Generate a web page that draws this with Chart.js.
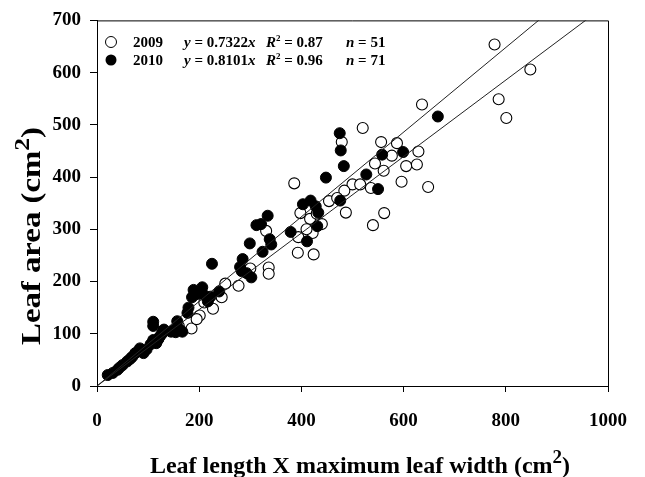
<!DOCTYPE html>
<html><head><meta charset="utf-8">
<script src="https://cdn.jsdelivr.net/npm/chart.js@4"></script>
<style>html,body{margin:0;padding:0;background:#fff}</style>
</head><body>
<canvas id="c" width="645" height="477"></canvas>
<script>
// ---- data ----
const x2009 = [778,848,786,801,636,520,479,556,587,577,629,544,561,605,626,596,648,500,515,536,484,454,487,562,540,386,398,417,440,422,394,393,424,331,336,336,277,251,244,227,201,185,195,90,120,160,210,300,410,430,470];
const y2009 = [654,606,549,513,539,494,467,467,465,441,449,426,412,421,424,391,381,386,386,379,374,354,332,331,308,388,331,320,310,293,285,255,252,297,227,215,192,196,170,148,135,110,128,68,90,115,160,225,300,330,360];
const x2010 = [21,31,40,44,50,59,65,69,75,80,84,88,91,97,105,110,113,116,120,123,127,129,131,145,150,154,160,167,110,110,157,177,179,186,189,195,206,211,217,222,239,225,280,283,285,293,302,299,312,321,324,334,338,341,379,403,411,418,428,431,433,448,475,476,477,483,527,550,558,599,667];
const y2010 = [21,25,31,35,40,47,52,56,63,66,72,68,63,70,80,88,85,82,90,95,100,104,108,104,107,103,110,104,115,123,124,140,150,170,184,176,189,173,162,171,181,234,228,220,243,216,208,273,308,310,257,326,281,271,295,348,277,355,344,306,332,399,484,355,451,421,405,377,443,448,516];
const slope2009 = 0.7322, slope2010 = 0.8101;
const xTicks = [0,200,400,600,800,1000];
const yTicks = [0,100,200,300,400,500,600,700];
const legendYear = ['2009','2010'];
const legendSlope = ['0.7322','0.8101'];
const legendR2 = ['0.87','0.96'];
const legendN = ['51','71'];
const xTitle = 'Leaf length X maximum leaf width (cm';
const yTitle = 'Leaf area (cm';

const pts = (xs, ys) => xs.map((v, i) => ({x: v, y: ys[i]}));
const FF = '"Liberation Serif", "Times New Roman", serif';

function measureSegs(ctx, segs) {
  let total = 0;
  segs.forEach(s => { ctx.font = s.f; s.w = ctx.measureText(s.t).width; total += s.w; });
  return total;
}
function drawSegs(ctx, segs, x, y, align) {
  const total = measureSegs(ctx, segs);
  let cx = align === 'center' ? x - total / 2 : x;
  segs.forEach(s => { ctx.font = s.f; ctx.fillText(s.t, cx, y + (s.dy || 0)); cx += s.w; });
}

const decor = {
  id: 'decor',
  afterDraw(chart) {
    const ctx = chart.ctx, a = chart.chartArea;
    ctx.save();
    ctx.strokeStyle = '#000'; ctx.lineWidth = 1;
    ctx.beginPath();
    ctx.moveTo(a.left, a.top + 0.5); ctx.lineTo(a.right + 0.5, a.top + 0.5); ctx.lineTo(a.right + 0.5, a.bottom);
    ctx.stroke();
    ctx.fillStyle = '#000';
    ctx.textBaseline = 'alphabetic';
    // x title
    const tf = 'bold 24px ' + FF, sf = 'bold 19px ' + FF;
    drawSegs(ctx, [{t: xTitle, f: tf}, {t: '2', f: sf, dy: -10}, {t: ')', f: tf}], 360, 473, 'center');
    // y title
    const ytf = 'bold 27px ' + FF, ysf = 'bold 21px ' + FF;
    const ySegs = [{t: yTitle, f: ytf}, {t: '2', f: ysf, dy: -11}, {t: ')', f: ytf}];
    const yw = measureSegs(ctx, ySegs);
    ctx.save();
    ctx.translate(40, 236); ctx.rotate(-Math.PI / 2);
    ctx.scale(218 / yw, 1);
    drawSegs(ctx, ySegs, 0, 0, 'center');
    ctx.restore();
    // legend
    const bf = 'bold 15px ' + FF, itf = 'italic bold 15px ' + FF, supf = 'bold 9px ' + FF;
    [42, 60].forEach((cy, i) => {
      ctx.beginPath(); ctx.arc(111, cy, 5.5, 0, Math.PI * 2);
      if (i === 0) { ctx.fillStyle = '#fff'; ctx.fill(); ctx.stroke(); } else { ctx.fillStyle = '#000'; ctx.fill(); }
      ctx.fillStyle = '#000';
      const base = cy + 5;
      drawSegs(ctx, [{t: legendYear[i], f: bf}], 133, base);
      drawSegs(ctx, [{t: 'y', f: itf}, {t: ' = ' + legendSlope[i], f: bf}, {t: 'x', f: itf}], 184, base);
      drawSegs(ctx, [{t: 'R', f: itf}, {t: '2', f: supf, dy: -6}, {t: ' = ' + legendR2[i], f: bf}], 266, base);
      drawSegs(ctx, [{t: 'n', f: itf}, {t: ' = ' + legendN[i], f: bf}], 346, base);
    });
    ctx.restore();
  }
};

const tickFont = {family: FF, size: 19, weight: 'bold'};
new Chart(document.getElementById('c'), {
  type: 'scatter',
  data: {
    datasets: [
      {label: 'fit2009', type: 'line', data: [{x: 0, y: 0}, {x: 1000, y: slope2009 * 1000}], borderColor: '#222', borderWidth: 1, pointRadius: 0, showLine: true, fill: false, order: 0},
      {label: 'fit2010', type: 'line', data: [{x: 0, y: 0}, {x: 1000, y: slope2010 * 1000}], borderColor: '#222', borderWidth: 1, pointRadius: 0, showLine: true, fill: false, order: 0},
      {label: '2010', data: pts(x2010, y2010), backgroundColor: '#000', borderColor: '#000', borderWidth: 1, pointRadius: 5.5, order: 1},
      {label: '2009', data: pts(x2009, y2009), backgroundColor: '#fff', borderColor: '#000', borderWidth: 1.1, pointRadius: 5.5, order: 2}
    ]
  },
  options: {
    responsive: false, animation: false, devicePixelRatio: 1,
    layout: {padding: {left: 0, right: 20, top: 19, bottom: 0}},
    plugins: {legend: {display: false}, tooltip: {enabled: false}},
    scales: {
      x: {
        type: 'linear', min: 0, max: 1000,
        afterBuildTicks: s => { s.ticks = xTicks.map(v => ({value: v})); },
        afterFit: s => { s.height = 91; },
        grid: {drawOnChartArea: false, tickLength: 6, color: '#000', tickColor: '#000'},
        border: {color: '#000', width: 1},
        ticks: {color: '#000', font: tickFont, padding: 18, maxRotation: 0, autoSkip: false, callback: v => String(v)}
      },
      y: {
        type: 'linear', min: 0, max: 700,
        afterBuildTicks: s => { s.ticks = yTicks.map(v => ({value: v})); },
        afterFit: s => { s.width = 97; },
        grid: {drawOnChartArea: false, tickLength: 7, color: '#000', tickColor: '#000'},
        border: {color: '#000', width: 1},
        ticks: {color: '#000', font: tickFont, padding: 9, autoSkip: false, callback: v => String(v)}
      }
    }
  },
  plugins: [decor]
});
</script>
</body></html>
